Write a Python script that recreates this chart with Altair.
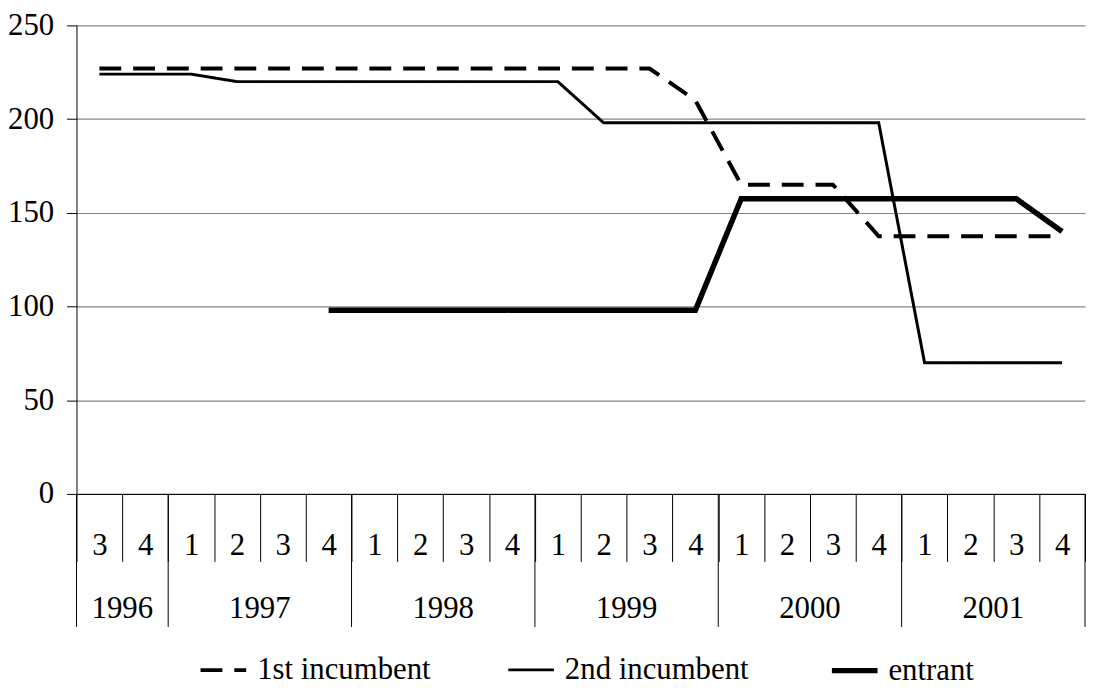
import json
import altair as alt
import pandas as pd

# ---- data ----
years = [1996, 1996, 1997, 1997, 1997, 1997, 1998, 1998, 1998, 1998, 1999,
         1999, 1999, 1999, 2000, 2000, 2000, 2000, 2001, 2001, 2001, 2001]
quarters = [3, 4, 1, 2, 3, 4, 1, 2, 3, 4, 1, 2, 3, 4, 1, 2, 3, 4, 1, 2, 3, 4]

first_incumbent = [227, 227, 227, 227, 227, 227, 227, 227, 227, 227, 227,
                   227, 227, 210, 165, 165, 165, 137.5, 137.5, 137.5, 137.5, 137.5]
second_incumbent = [224, 224, 224, 220, 220, 220, 220, 220, 220, 220, 220,
                    198, 198, 198, 198, 198, 198, 198, 70, 70, 70, 70]
entrant = [None, None, None, None, None, 98, 98, 98, 98, 98, 98,
           98, 98, 98, 157.5, 157.5, 157.5, 157.5, 157.5, 157.5, 157.5, 140]

series_names = ["1st incumbent", "2nd incumbent", "entrant"]
y_ticks = [0, 50, 100, 150, 200, 250]

FONT = "Liberation Serif"
FS = 31
n = len(quarters)

rows = []
for name, vals in zip(series_names, [first_incumbent, second_incumbent, entrant]):
    for i, v in enumerate(vals):
        if v is not None:
            rows.append({"series": name, "pos": i + 0.5, "value": v})
df = pd.DataFrame(rows)

year_list = sorted(set(years))
year_start = [years.index(y) for y in year_list]
year_count = [years.count(y) for y in year_list]
year_df = pd.DataFrame({"year": [str(y) for y in year_list],
                        "mid": [s + c / 2 for s, c in zip(year_start, year_count)]})
bound_df = pd.DataFrame({"b": year_start + [n]})

W, H = 1016, 472
x_scale = alt.Scale(domain=[0, n], nice=False, zero=False)
q_labels = json.dumps([str(q) for q in quarters])
x_axis = alt.Axis(
    values=list(range(n + 1)), title=None, grid=False,
    tickSize=68, tickColor="black", domainColor="black",
    labelExpr=f"datum.value < {n} ? {q_labels}[datum.value] : ''",
    labelOffset=W / n / 2, labelPadding=-16, labelBaseline="middle",
    labelFlush=False, labelOverlap=False, labelBound=False,
    labelFont=FONT, labelFontSize=FS, labelColor="black",
)

legend = alt.Legend(
    orient="none", legendX=122, legendY=624, direction="horizontal",
    columns=3, columnPadding=72, gridAlign="each", title=None,
    symbolType="stroke", symbolSize=2116, symbolStrokeColor="black",
    labelFont=FONT, labelFontSize=FS, labelColor="black", labelOffset=8,
    labelLimit=400, padding=0,
)

lines = alt.Chart(df).mark_line(color="black").encode(
    x=alt.X("pos:Q", scale=x_scale, axis=x_axis),
    y=alt.Y("value:Q", scale=alt.Scale(domain=[0, 250], nice=False),
            axis=alt.Axis(values=y_ticks, title=None, grid=True,
                          gridColor="#858585", gridWidth=1.2,
                          domainColor="black", tickColor="black", tickSize=10,
                          labelPadding=13, labelFont=FONT, labelFontSize=FS,
                          labelColor="black")),
    strokeDash=alt.StrokeDash("series:O", sort=series_names,
                              scale=alt.Scale(domain=series_names,
                                              range=[[22, 12], [1, 0], [1, 0]]),
                              legend=legend),
    strokeWidth=alt.StrokeWidth("series:O", sort=series_names,
                                scale=alt.Scale(type="ordinal", domain=series_names,
                                                range=[4, 3, 5.5]),
                                legend=legend),
)

year_rules = alt.Chart(bound_df).mark_rule(color="black", strokeWidth=1).encode(
    x=alt.X("b:Q", scale=x_scale, axis=x_axis),
    y=alt.value(H),
    y2=alt.value(H + 134),
)

year_text = alt.Chart(year_df).mark_text(
    font=FONT, fontSize=FS, color="black", baseline="middle", align="center"
).encode(
    x=alt.X("mid:Q", scale=x_scale, axis=x_axis),
    y=alt.value(H + 116),
    text="year:N",
)

chart = alt.layer(lines, year_rules, year_text).properties(
    width=W, height=H,
    autosize=alt.AutoSizeParams(type="none"),
    padding={"left": 69, "top": 15, "right": 1, "bottom": 194},
).configure_view(stroke=None)

chart.save("out.html", embed_options={"renderer": "svg", "actions": False})
